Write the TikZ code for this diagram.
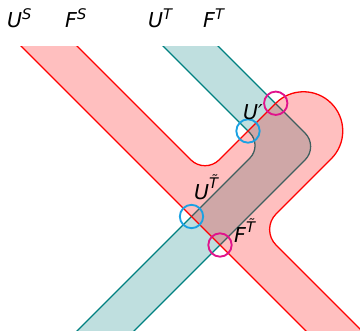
\documentclass[tikz,border=0pt]{standalone}
\usepackage{fontspec}
\newfontfamily\lblfont{DejaVu Sans}
\usepackage{tikz}
\definecolor{ink}{HTML}{000000}
\definecolor{sRed}{HTML}{FF0000}
\definecolor{sTeal}{HTML}{008080}
\definecolor{ringU}{HTML}{1BA1E2}
\definecolor{ringF}{HTML}{E0138C}
\newcommand{\suplbl}[3][6pt]{#2\raisebox{#1}{\fontsize{12.5}{14}\selectfont #3}}
\tikzset{
  lbl/.style={font=\lblfont\itshape\fontsize{17.5}{20}\selectfont, text=ink, inner sep=0pt, anchor=base west},
  edgeS/.style={draw=sRed, line width=1.1pt},
  edgeT/.style={draw=sTeal, line width=1.1pt},
  hitU/.style={circle, draw=ringU, line width=1.6pt, minimum size=0.7cm, inner sep=0pt},
  hitF/.style={hitU, draw=ringF},
}

\begin{document}
\begin{tikzpicture}[x=0.03cm, y=-0.03cm]
\useasboundingbox (0,0) rectangle (360,330);
\begin{scope}
\clip (0,46) rectangle (360,330);
\fill[sTeal!25] (117,0) -- (172,0) -- (305.07,133.07) arc[start angle=-45, end angle=45, radius=19] -- (105,360) -- (48,360) -- (249.77,158.23) arc[start angle=45, end angle=-45, radius=18] -- cycle;
\draw[edgeT] (117,0) -- (249.77,132.77) arc[start angle=-45, end angle=45, radius=18] -- (48,360);
\draw[edgeT] (172,0) -- (305.07,133.07) arc[start angle=-45, end angle=45, radius=19] -- (105,360);
\fill[sRed, fill opacity=0.25] (-25,0) -- (31,0) -- (190.86,159.86) arc[start angle=135, end angle=45, radius=20] -- (275.75,103.25) arc[start angle=-135, end angle=45, radius=39.25] -- (276.06,213.94) arc[start angle=225, end angle=135, radius=22] -- (391,360) -- (335,360) -- cycle;
\draw[edgeS] (-25,0) -- (335,360);
\draw[edgeS] (31,0) -- (190.86,159.86) arc[start angle=135, end angle=45, radius=20] -- (275.75,103.25) arc[start angle=-135, end angle=45, radius=39.25] -- (276.06,213.94) arc[start angle=225, end angle=135, radius=22] -- (391,360);
\end{scope}
\node[hitU] (hitUp) at (248,131) {};
\node[hitF] (hitCap) at (275.75,103.25) {};
\node[hitU] (hitUt) at (191.5,216.5) {};
\node[hitF] (hitFt) at (220,245) {};
\node[lbl] (lUS) at (7,27) {\suplbl{U}{S}};
\node[lbl] (lFS) at (65,27) {\suplbl{F}{S}};
\node[lbl] (lUT) at (148,27) {\suplbl{U}{T}};
\node[lbl] (lFT) at (203,27) {\suplbl{F}{T}};
\node[lbl] (lUp) at (243,119) {U′};
\node[lbl] (lUt) at (194,199) {\suplbl[9pt]{U}{T̃}};
\node[lbl] (lFt) at (234,242) {\suplbl[8pt]{F}{T̃}};
\end{tikzpicture}
\end{document}
